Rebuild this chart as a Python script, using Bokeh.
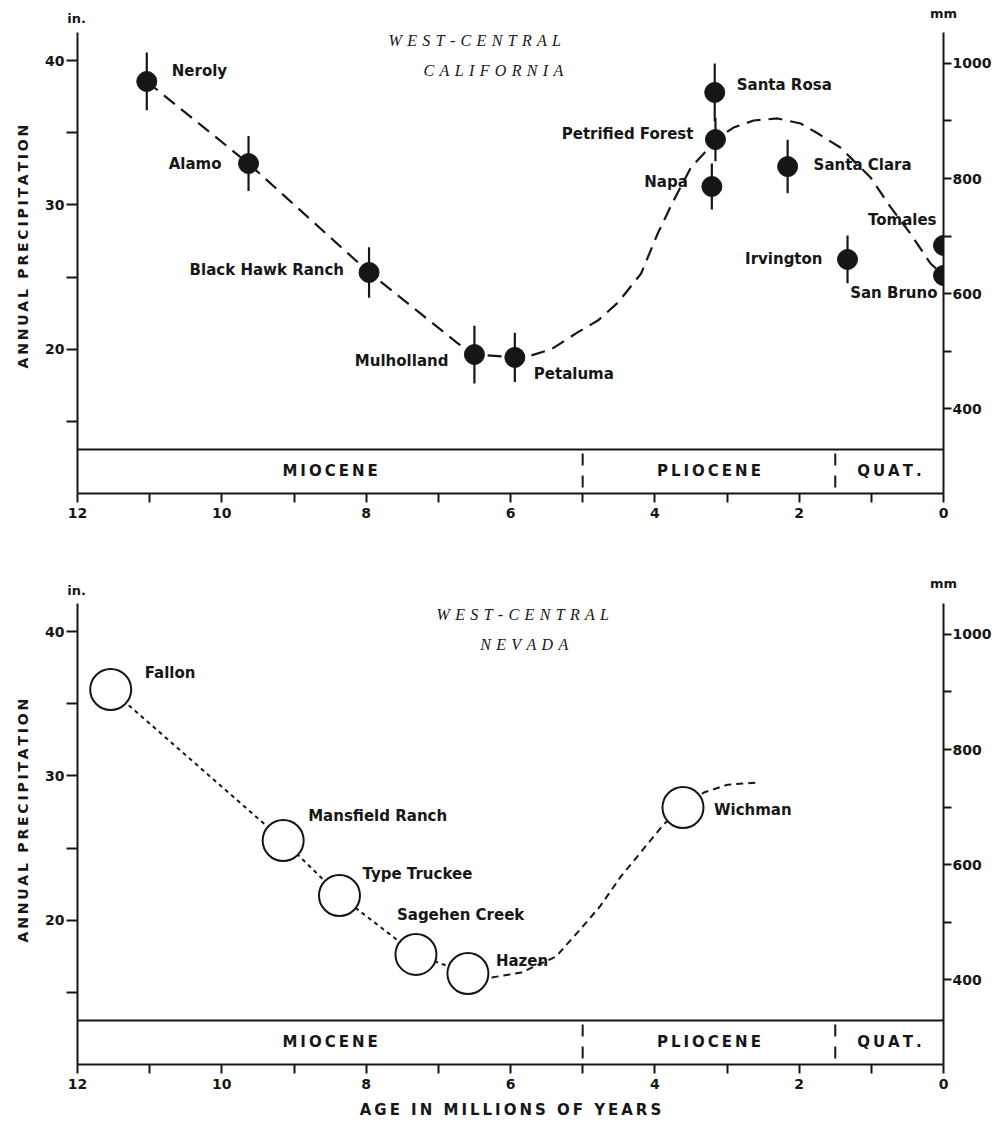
from bokeh.plotting import figure
from bokeh.models import Range1d, LinearAxis, FixedTicker, Span, Title
from bokeh.layouts import column
from bokeh.embed import file_html
from bokeh.resources import INLINE
from bokeh.core.properties import value

# ---------------- data ----------------
ca_site = ["Neroly", "Alamo", "Black Hawk Ranch", "Mulholland", "Petaluma",
           "Santa Rosa", "Petrified Forest", "Napa", "Santa Clara",
           "Irvington", "Tomales", "San Bruno"]
ca_age = [11.04, 9.63, 7.96, 6.50, 5.94, 3.17, 3.16, 3.21, 2.16, 1.33, 0.0, 0.0]
ca_precip = [38.55, 32.87, 25.33, 19.65, 19.45, 37.79, 34.53, 31.28, 32.66, 26.23, 27.2, 25.12]
ca_err = [2.0, 1.9, 1.75, 2.0, 1.7, 2.0, 1.5, 1.6, 1.85, 1.65, 0.0, 0.0]

ca_curve_age = [11.04, 9.63, 7.96, 6.73, 6.50, 5.94, 5.72, 5.44, 5.07, 4.79, 4.51,
                4.19, 3.96, 3.74, 3.50, 3.32, 3.16, 2.91, 2.63, 2.30, 1.98, 1.74,
                1.43, 1.01, 0.73, 0.46, 0.18, 0.0]
ca_curve_precip = [38.55, 32.87, 25.33, 20.42, 19.65, 19.45, 19.58, 20.0, 21.18, 22.0,
                   23.25, 25.26, 28.03, 30.31, 32.6, 33.56, 34.53, 35.36, 35.85, 35.99,
                   35.64, 34.95, 33.98, 31.9, 29.83, 28.03, 25.95, 25.12]

nv_site = ["Fallon", "Mansfield Ranch", "Type Truckee", "Sagehen Creek", "Hazen", "Wichman"]
nv_age = [11.54, 9.15, 8.37, 7.31, 6.59, 3.61]
nv_precip = [35.99, 25.54, 21.73, 17.65, 16.33, 27.82]

nv_curve_age = [6.59, 6.26, 5.85, 5.37, 5.07, 4.76, 4.47, 4.28, 3.88, 3.61, 3.32, 2.99, 2.56]
nv_curve_precip = [16.33, 16.05, 16.4, 17.5, 19.17, 20.97, 23.05, 24.2, 26.64, 27.82, 28.86, 29.4, 29.55]

epoch_name = ["MIOCENE", "PLIOCENE", "QUAT."]
epoch_start = [12.0, 5.0, 1.5]
epoch_end = [5.0, 1.5, 0.0]

age_ticks = list(range(0, 13))
in_ticks = [15, 20, 25, 30, 35, 40]
in_labels = [20, 30, 40]
mm_ticks = [400, 500, 600, 700, 800, 900, 1000]
mm_labels = [400, 600, 800, 1000]

# ---------------- layout / style ----------------
ca_dx = [25, -27, -25, -26, 19, 22, -22, -24, 26, -25, -7, -6]
ca_dy = [-10, 0, -2, 6, 17, -7, -6, -5, -2, 0, -25, 18]
ca_align = ["left", "right", "right", "right", "left", "left", "right", "right",
            "left", "right", "right", "right"]
nv_dx = [34, 25, 23, -19, 28, 31]
nv_dy = [-16, -24, -21, -39, -12, 3]

INK = "#161616"
SANS = "DejaVu Sans"
SERIF = "Liberation Serif"
THIN = "\u2009"
W = 996
BORDER_L, BORDER_R = 76, 53
FRAME_H = 461
Y0, Y1 = 10.03, 41.94
STRIP_TOP = 13.08
MM_A, MM_B = 1.0, 25.1
PX_PER_AGE = (W - BORDER_L - BORDER_R) / 12.0
PX_PER_IN = FRAME_H / (Y1 - Y0)


def track(s, sep=THIN):
    return sep.join(list(s))


def style_axis(ax, size, out, standoff):
    ax.axis_line_color = INK
    ax.axis_line_width = 2
    ax.major_tick_line_color = INK
    ax.major_tick_line_width = 2
    ax.major_tick_in = 0
    ax.major_tick_out = out
    ax.minor_tick_line_color = None
    ax.major_label_text_font = SANS
    ax.major_label_text_font_style = "bold"
    ax.major_label_text_font_size = size
    ax.major_label_text_color = INK
    ax.major_label_standoff = standoff


def header(height, in_y, mm_y):
    """Thin strip above a panel holding the unit labels over the two axes."""
    h = figure(width=W, height=height,
               x_range=Range1d(12 + BORDER_L / PX_PER_AGE, 0 - BORDER_R / PX_PER_AGE),
               y_range=Range1d(Y1, Y1 + height / PX_PER_IN),
               output_backend="svg", toolbar_location=None,
               x_axis_location=None, y_axis_location=None,
               min_border=0, outline_line_color=None, frame_align=False)
    h.grid.visible = False
    h.text(x=[12, 0], y=[in_y, mm_y], text=["in.", "mm"],
           text_align="center", text_baseline="middle", text_color=INK,
           text_font=value(SANS), text_font_style="bold", text_font_size="13px")
    return h


def panel(height, bottom, title1, title2, t_x1, t_y1, t_x2, t_y2, t_align, ylab_offset):
    p = figure(width=W, height=height, x_range=Range1d(12, 0), y_range=Range1d(Y0, Y1),
               output_backend="svg", toolbar_location=None,
               min_border_left=BORDER_L, min_border_right=BORDER_R,
               min_border_top=0, min_border_bottom=bottom,
               outline_line_color=None)
    p.xgrid.visible = False
    p.ygrid.visible = False
    p.extra_y_ranges = {"mm": Range1d(MM_A + MM_B * Y0, MM_A + MM_B * Y1)}
    rax = LinearAxis(y_range_name="mm")
    p.add_layout(rax, "right")

    xax = p.below[0]
    yax = p.left[0]
    xax.ticker = FixedTicker(ticks=age_ticks)
    xax.major_label_overrides = {t: (str(t) if t % 2 == 0 else "") for t in age_ticks}
    style_axis(xax, "14px", 9, 5)

    yax.ticker = FixedTicker(ticks=in_ticks)
    yax.major_label_overrides = {t: (str(t) if t in in_labels else "") for t in in_ticks}
    style_axis(yax, "14px", 11, 2)

    rax.ticker = FixedTicker(ticks=mm_ticks)
    rax.major_label_overrides = {t: (str(t) if t in mm_labels else "") for t in mm_ticks}
    style_axis(rax, "14px", 8, 1)

    p.add_layout(Title(text=track("ANNUAL PRECIPITATION"), align="left",
                       offset=ylab_offset, standoff=24, text_font=SANS,
                       text_font_style="bold", text_font_size="14px", text_color=INK), "left")

    # geologic time strip
    p.add_layout(Span(location=STRIP_TOP, dimension="width", line_color=INK, line_width=2))
    bounds = epoch_start[1:]
    p.segment(x0=bounds, y0=[Y0] * len(bounds), x1=bounds, y1=[STRIP_TOP] * len(bounds),
              line_color=INK, line_width=2, line_dash="12 10", line_dash_offset=16)
    p.text(x=[(a + b) / 2 for a, b in zip(epoch_start, epoch_end)],
           y=[(Y0 + STRIP_TOP) / 2] * len(epoch_name),
           text=[track(n) for n in epoch_name],
           text_align="center", text_baseline="middle", text_color=INK,
           text_font=value(SANS), text_font_style="bold", text_font_size="15px")

    # region title
    p.text(x=[t_x1, t_x2], y=[t_y1, t_y2],
           text=[track(title1, "\u2004"), track(title2, "\u2004")],
           text_align=t_align, text_baseline="middle", text_color=INK,
           text_font=value(SERIF), text_font_style="italic", text_font_size="16px")
    return p


# ---------------- top panel: California ----------------
h1 = header(32, 42.91, 43.25)
p1 = panel(538, 77, "WEST-CENTRAL", "CALIFORNIA", 5.30, 41.38, 5.27, 39.31, "right", 125)
p1.line(ca_curve_age, ca_curve_precip, line_color=INK, line_width=2.2, line_dash="14 8")
p1.segment(x0=ca_age, y0=[v - e for v, e in zip(ca_precip, ca_err)],
           x1=ca_age, y1=[v + e for v, e in zip(ca_precip, ca_err)],
           line_color=INK, line_width=2.2)
p1.scatter(ca_age, ca_precip, size=20, fill_color=INK, line_color=INK)
for al in ("left", "right"):
    idx = [i for i, a in enumerate(ca_align) if a == al]
    p1.text(x=[ca_age[i] for i in idx], y=[ca_precip[i] for i in idx],
            text=[ca_site[i] for i in idx],
            x_offset=[ca_dx[i] for i in idx], y_offset=[ca_dy[i] for i in idx],
            text_align=al, text_baseline="middle", text_color=INK,
            text_font=value(SANS), text_font_style="bold", text_font_size="15px")

# ---------------- bottom panel: Nevada ----------------
h2 = header(33, 42.84, 43.32)
p2 = panel(518, 57, "WEST-CENTRAL", "NEVADA", 5.83, 41.18, 5.81, 39.1, "center", 122)
p2.line(nv_age[:5], nv_precip[:5], line_color=INK, line_width=2, line_dash="4 4")
p2.line(nv_curve_age, nv_curve_precip, line_color=INK, line_width=2, line_dash="7 5")
p2.scatter(nv_age, nv_precip, size=41, fill_color="white", line_color=INK, line_width=2)
p2.text(x=nv_age, y=nv_precip, text=nv_site, x_offset=nv_dx, y_offset=nv_dy,
        text_align="left", text_baseline="middle", text_color=INK,
        text_font=value(SANS), text_font_style="bold", text_font_size="15px")
xax2 = p2.below[0]
xax2.axis_label = track("AGE IN MILLIONS OF YEARS")
xax2.axis_label_text_font = SANS
xax2.axis_label_text_font_style = "bold"
xax2.axis_label_text_font_size = "15px"
xax2.axis_label_text_color = INK
xax2.axis_label_standoff = 9

layout = column(h1, p1, h2, p2)
open("out.html", "w").write(file_html(layout, INLINE))
